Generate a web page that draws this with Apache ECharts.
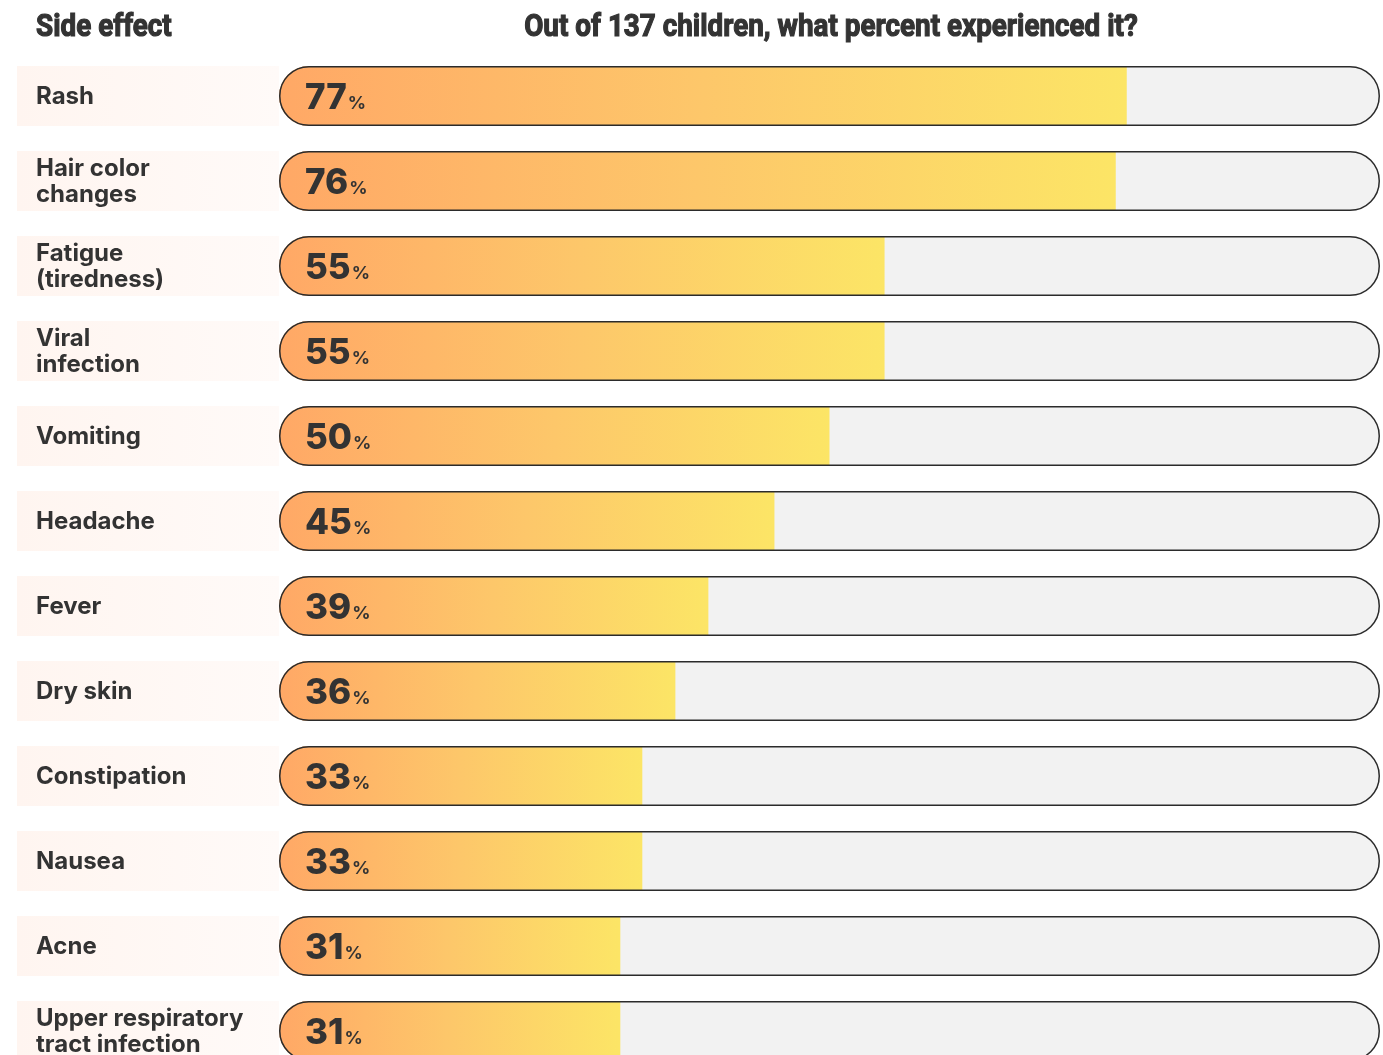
<!DOCTYPE html>
<html>
<head>
<meta charset="utf-8">
<script src="https://cdn.jsdelivr.net/npm/echarts@6/dist/echarts.min.js"></script>
<style>
  html, body { margin: 0; padding: 0; background: #fff; overflow: hidden; }
  #main { width: 1383px; height: 1090px; }
</style>
</head>
<body>
<div id="main"></div>
<script>
// side effects, top to bottom
const categories = [
  'Rash', 'Hair color\nchanges', 'Fatigue\n(tiredness)', 'Viral\ninfection',
  'Vomiting', 'Headache', 'Fever', 'Dry skin', 'Constipation', 'Nausea',
  'Acne', 'Upper respiratory\ntract infection'
]
const percents = [77, 76, 55, 55, 50, 45, 39, 36, 33, 33, 31, 31]
const headerLeft = 'Side effect'
const headerRight = 'Out of 137 children, what percent experienced it?'
const maxPercent = 100

const textColor = '#333333'
const barH = 60
const gridTop = 53.5
const gridHeight = 85 * categories.length

const chart = echarts.init(document.getElementById('main'))

// condensed look: squeeze a bold Roboto horizontally, stroke to make it heavier
const headFont = {
  fontFamily: 'Roboto, sans-serif',
  fontWeight: 'bold',
  fontSize: 32,
  fill: textColor,
  stroke: textColor,
  lineWidth: 1.2,
  verticalAlign: 'middle'
}

chart.setOption({
  animation: false,
  graphic: [
    { type: 'text', x: 36, y: 28, scaleX: 0.87, style: Object.assign({ text: headerLeft, align: 'left' }, headFont) },
    { type: 'text', x: 831, y: 28, scaleX: 0.87, style: Object.assign({ text: headerRight, align: 'center' }, headFont) }
  ],
  grid: [
    { left: 279, right: 3, top: gridTop, height: gridHeight },
    { left: 17, width: 262, top: gridTop, height: gridHeight }
  ],
  xAxis: [
    { gridIndex: 0, type: 'value', min: 0, max: maxPercent, show: false },
    { gridIndex: 1, type: 'value', min: 0, max: 1, show: false }
  ],
  yAxis: [
    { gridIndex: 0, type: 'category', data: categories, inverse: true, show: false },
    { gridIndex: 1, type: 'category', data: categories, inverse: true, show: false }
  ],
  series: [
    // grey track
    {
      type: 'bar', xAxisIndex: 0, yAxisIndex: 0,
      data: categories.map(() => maxPercent),
      barWidth: barH, barGap: '-100%',
      itemStyle: { color: '#f2f2f2', borderRadius: barH / 2 },
      silent: true
    },
    // the value
    {
      type: 'bar', xAxisIndex: 0, yAxisIndex: 0,
      data: percents,
      barWidth: barH, barGap: '-100%',
      itemStyle: {
        color: new echarts.graphic.LinearGradient(0, 0, 1, 0, [
          { offset: 0, color: '#ffa866' },
          { offset: 0.5, color: '#fdc76a' },
          { offset: 1, color: '#fce566' }
        ]),
        borderRadius: [barH / 2, 0, 0, barH / 2]
      },
      label: {
        show: true,
        position: 'insideLeft',
        distance: 26,
        offset: [0, 2],
        formatter: p => '{n|' + p.value + '}{p|%}',
        rich: {
          n: { fontFamily: 'Inter, sans-serif', fontWeight: 800, fontSize: 35, color: textColor },
          p: { fontFamily: 'Inter, sans-serif', fontWeight: 700, fontSize: 18, color: textColor, verticalAlign: 'bottom', padding: [0, 0, 3, 1] }
        }
      }
    },
    // outline on top
    {
      type: 'bar', xAxisIndex: 0, yAxisIndex: 0,
      data: categories.map(() => maxPercent),
      barWidth: barH, barGap: '-100%',
      itemStyle: { color: 'rgba(0,0,0,0)', borderColor: '#2b2b2b', borderWidth: 1.5, borderRadius: barH / 2 },
      silent: true, z: 3
    },
    // label boxes on the left
    {
      type: 'bar', xAxisIndex: 1, yAxisIndex: 1,
      data: categories.map(() => 1),
      barWidth: barH,
      itemStyle: {
        color: new echarts.graphic.LinearGradient(0, 0, 1, 0, [
          { offset: 0, color: '#fff5f0' },
          { offset: 1, color: '#fffaf8' }
        ])
      },
      label: {
        show: true,
        position: 'insideLeft',
        distance: 19,
        offset: [0, 1],
        formatter: p => p.name,
        fontFamily: 'Inter, sans-serif',
        fontWeight: 700,
        fontSize: 24,
        lineHeight: 26,
        color: textColor
      },
      silent: true
    }
  ]
})
</script>
</body>
</html>
